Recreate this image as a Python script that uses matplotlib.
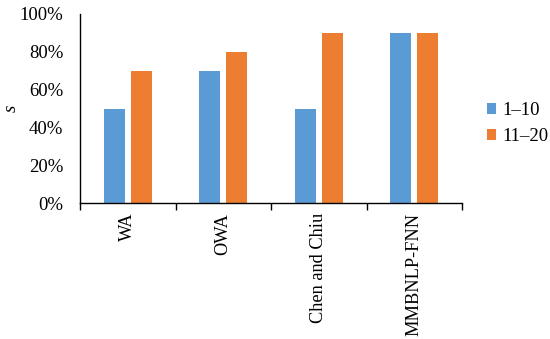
import matplotlib
matplotlib.use("Agg")
import matplotlib.pyplot as plt
import numpy as np
from matplotlib.ticker import FuncFormatter

categories = ["WA", "OWA", "Chen and Chiu", "MMBNLP-FNN"]
series_names = ["1\u201310", "11\u201320"]
s_1_10 = [50, 70, 50, 90]
s_11_20 = [70, 80, 90, 90]
yticks = [0, 20, 40, 60, 80, 100]

plt.rcParams['font.family'] = ['Liberation Serif', 'DejaVu Serif']

fig = plt.figure(figsize=(5.5, 3.39), dpi=100)
ax = fig.add_axes([80/550, 1-203/339, (462-80)/550, (203-14)/339])

x = np.arange(len(categories))
w = 0.22
off = 0.14
ax.bar(x - off, s_1_10, width=w, color="#5B9BD5", label=series_names[0])
ax.bar(x + off, s_11_20, width=w, color="#ED7D31", label=series_names[1])

ax.set_xlim(-0.5, len(categories) - 0.5)
ax.set_ylim(0, 100)
ax.set_yticks(yticks)
ax.yaxis.set_major_formatter(FuncFormatter(lambda v, p: f"{int(v)}%"))
ax.tick_params(axis='y', length=0, pad=12, labelsize=13.5)

ax.set_xticks(np.arange(-0.5, len(categories), 1.0))
ax.set_xticklabels([])
ax.tick_params(axis='x', which='major', direction='out', length=5, width=1)
ax.set_xticks(x, minor=True)
ax.set_xticklabels(categories, minor=True, rotation=90, fontsize=13.2)
ax.tick_params(axis='x', which='minor', length=0, pad=7)

for s in ['top', 'right']:
    ax.spines[s].set_visible(False)
ax.spines['left'].set_linewidth(1)
ax.spines['bottom'].set_linewidth(1)

fig.text(11/550, 1-108/339, "s", fontsize=13.5, style='italic', rotation=90,
         ha='center', va='center')

leg = ax.legend(loc='center left', bbox_to_anchor=(487/550, 1-123.5/339),
                bbox_transform=fig.transFigure, frameon=False, fontsize=13.5,
                handlelength=0.5, handleheight=0.5, handletextpad=0.3,
                labelspacing=0.5, borderpad=0, borderaxespad=0)

fig.savefig("out.png", dpi=100)
